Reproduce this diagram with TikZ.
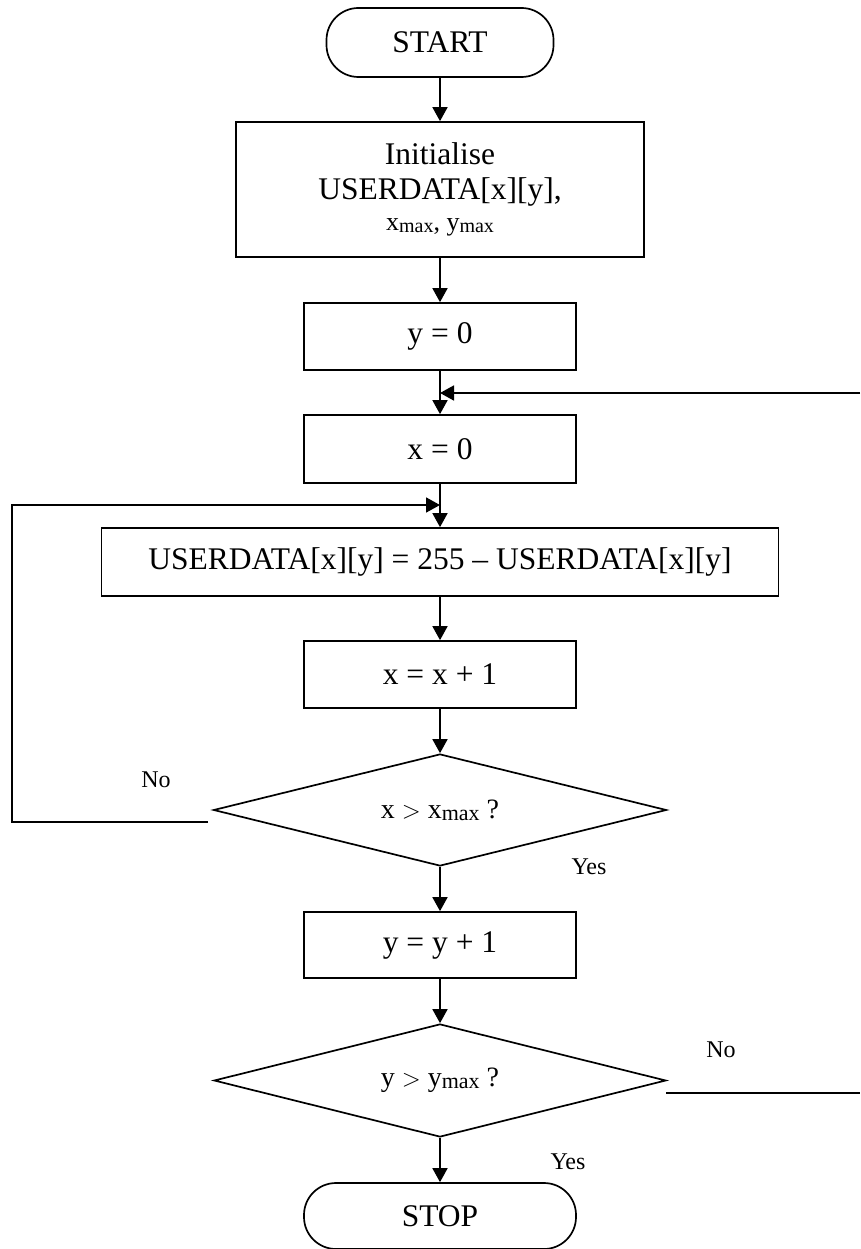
\documentclass[tikz,border=0pt]{standalone}
\usepackage{fontspec}
\setmainfont{Liberation Serif}
\usetikzlibrary{arrows.meta,shapes.geometric}
\newcommand{\bigf}{\fontsize{31.5}{37}\selectfont}
\newcommand{\labf}{\fontsize{24}{28}\selectfont}
\newcommand{\submax}[1]{\raisebox{-2pt}{\fontsize{#1}{#1}\selectfont max}}
\begin{document}
\begin{tikzpicture}[x=1pt,y=-1pt,
  every node/.style={font=\bigf, line width=1.7pt},
  proc/.style={draw, rectangle, inner sep=0pt, minimum width=272pt, minimum height=67pt},
  term/.style={draw, rectangle, rounded corners=32pt, inner sep=0pt, minimum width=#1, minimum height=67pt},
  decis/.style={draw, diamond, aspect=4, inner sep=0pt, minimum width=453pt, minimum height=112pt},
  lab/.style={font=\labf, inner sep=0pt},
  arr/.style={line width=1.7pt, -{Triangle[width=15pt,length=14pt]}},
  ln/.style={line width=1.7pt}]
\useasboundingbox (0,0) rectangle (860,1249);
\node[term=227pt, minimum height=69pt] (start) at (440,42.5) {START};
\node[draw, rectangle, inner sep=0pt, minimum width=408pt, minimum height=135pt, align=center] (init) at (440,189.5)
  {Initialise\\[-2pt]USERDATA[x][y],\\[-6pt]{\fontsize{26}{29}\selectfont x\submax{20}, y\submax{20}}};
\node[proc] (y0) at (440,336.5) {y = 0};
\node[proc, minimum height=68pt] (x0) at (440,449) {x = 0};
\node[proc, minimum width=677pt, minimum height=68pt] (inv) at (440,562) {USERDATA[x][y] = 255 – USERDATA[x][y]};
\node[proc] (xinc) at (440,674.5) {x = x + 1};
\node[decis] (d1) at (440,810) {\fontsize{28}{31}\selectfont x {\fontsize{24}{24}\selectfont $>$} x\submax{22}\ ?};
\node[proc, minimum height=66pt] (yinc) at (440,945) {y = y + 1};
\node[decis, minimum height=113pt, minimum width=452pt] (d2) at (440,1080.5) {\fontsize{28}{31}\selectfont y {\fontsize{24}{24}\selectfont $>$} y\submax{22}\ ?};
\node[term=272pt, minimum height=66pt] (stop) at (440,1216) {STOP};
\node[lab] (no1) at (156,780) {No};
\node[lab] (yes1) at (589,867) {Yes};
\node[lab] (no2) at (721,1050) {No};
\node[lab] (yes2) at (568,1162) {Yes};
\coordinate (rin) at (860,393);
\coordinate (j1) at (440,393);
\coordinate (lo) at (208,822);
\coordinate (lc1) at (12,822);
\coordinate (lc2) at (12,505);
\coordinate (j2) at (440,505);
\coordinate (ro) at (666,1093);
\coordinate (rout) at (860,1093);
\draw[arr] (start.south) -- (init.north);
\draw[arr] (init.south) -- (y0.north);
\draw[arr] (y0.south) -- (x0.north);
\draw[arr] (rin) -- (j1);
\draw[arr] (x0.south) -- (inv.north);
\draw[arr] (lo) -- (lc1) -- (lc2) -- (j2);
\draw[arr] (inv.south) -- (xinc.north);
\draw[arr] (xinc.south) -- (d1.north);
\draw[arr] (d1.south) -- (yinc.north);
\draw[arr] (yinc.south) -- (d2.north);
\draw[arr] (d2.south) -- (stop.north);
\draw[ln] (ro) -- (rout);
\end{tikzpicture}
\end{document}
